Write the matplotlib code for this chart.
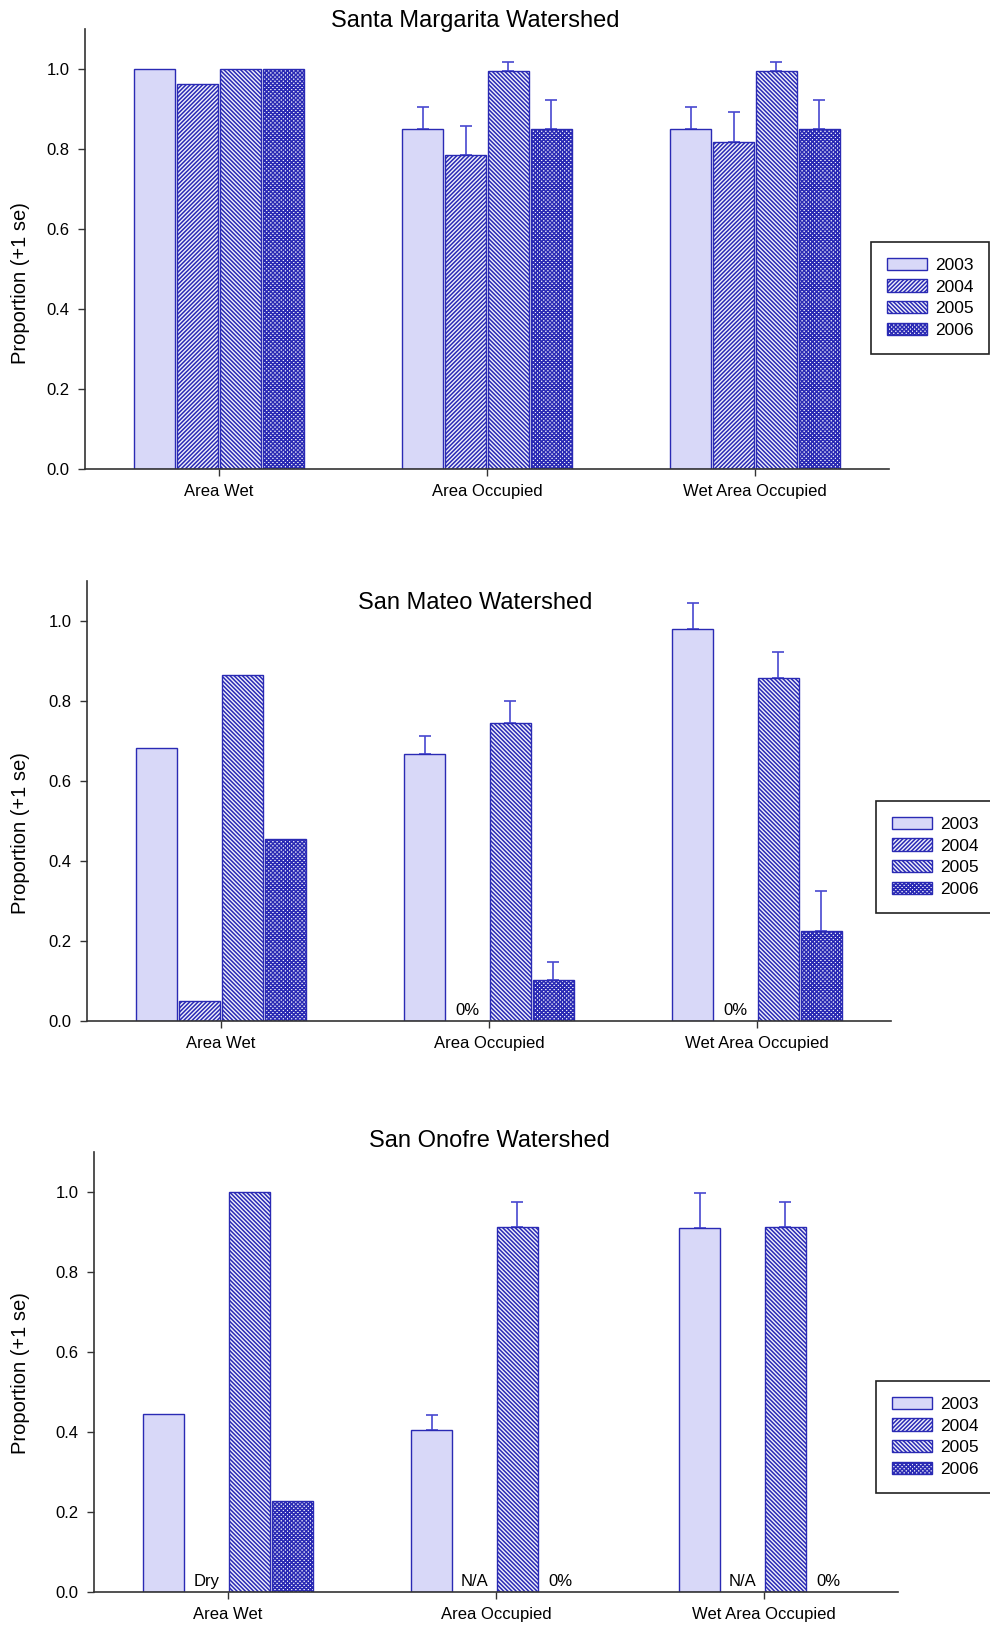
import matplotlib
matplotlib.use("Agg")
import matplotlib.pyplot as plt
import numpy as np
from matplotlib.patches import Patch

plt.rcParams['font.family'] = ['Liberation Sans', 'DejaVu Sans']
plt.rcParams['hatch.linewidth'] = 1.1

categories = ['Area Wet', 'Area Occupied', 'Wet Area Occupied']
years = ['2003', '2004', '2005', '2006']

# Santa Margarita
sm_vals = {'2003': [1.0, 0.849, 0.849],
           '2004': [0.963, 0.785, 0.817],
           '2005': [1.0, 0.996, 0.996],
           '2006': [1.0, 0.851, 0.851]}
sm_se = {'2003': [0, 0.057, 0.057],
         '2004': [0, 0.073, 0.075],
         '2005': [0, 0.021, 0.021],
         '2006': [0, 0.071, 0.071]}
sm_notes = {}

# San Mateo
smt_vals = {'2003': [0.682, 0.668, 0.979],
            '2004': [0.05, np.nan, np.nan],
            '2005': [0.865, 0.746, 0.858],
            '2006': [0.456, 0.103, 0.225]}
smt_se = {'2003': [0, 0.045, 0.065],
          '2004': [0, 0, 0],
          '2005': [0, 0.054, 0.064],
          '2006': [0, 0.045, 0.099]}
smt_notes = {('2004', 1): '0%', ('2004', 2): '0%'}

# San Onofre
so_vals = {'2003': [0.445, 0.405, 0.91],
           '2004': [np.nan, np.nan, np.nan],
           '2005': [1.0, 0.913, 0.913],
           '2006': [0.228, np.nan, np.nan]}
so_se = {'2003': [0, 0.038, 0.087],
         '2004': [0, 0, 0],
         '2005': [0, 0.062, 0.062],
         '2006': [0, 0, 0]}
so_notes = {('2004', 0): 'Dry', ('2004', 1): 'N/A', ('2004', 2): 'N/A',
            ('2006', 1): '0%', ('2006', 2): '0%'}

edge = '#2a2ab4'
styles = {'2003': dict(facecolor='#d8d8f8', hatch=None),
          '2004': dict(facecolor='#f2f2fc', hatch='////////'),
          '2005': dict(facecolor='#f2f2fc', hatch='\\\\\\\\\\\\\\\\'),
          '2006': dict(facecolor='#f2f2fc', hatch='xxxxxxxx')}

W, H = 990, 1630
fig = plt.figure(figsize=(W / 100, H / 100), dpi=100)


def rect(l, r, t, b):
    return [l / W, 1 - b / H, (r - l) / W, (b - t) / H]


def panel(box, title, title_xy, ylab_y, leg_xy, vals, ses, notes):
    ax = fig.add_axes(rect(*box))
    x = np.arange(len(categories))
    step, width = 0.16, 0.152
    for i, yr in enumerate(years):
        xs = x + (i - 1.5) * step
        v = np.array(vals[yr], dtype=float)
        st = styles[yr]
        ax.bar(xs, v, width, facecolor=st['facecolor'], edgecolor=edge,
               hatch=st['hatch'], linewidth=1.0, zorder=2)
        se = np.array(ses[yr], dtype=float)
        m = se > 0
        if m.any():
            ax.errorbar(xs[m], v[m], yerr=[np.zeros(m.sum()), se[m]], fmt='none',
                        ecolor='#4848d0', elinewidth=1.2, capsize=4, capthick=1.2,
                        zorder=1)
        for (y2, j), txt in notes.items():
            if y2 == yr:
                ax.text(xs[j], 0.008, txt, ha='center', va='bottom', fontsize=12)
    ax.set_xlim(-0.5, 2.5)
    ax.set_ylim(0, 1.1)
    ax.set_yticks(np.arange(0, 1.01, 0.2))
    ax.set_yticklabels(['%.1f' % t for t in np.arange(0, 1.01, 0.2)])
    ax.set_xticks(x)
    ax.set_xticklabels(categories)
    ax.tick_params(direction='out', length=5, width=1, labelsize=12,
                   color='#333333', pad=6)
    for s in ['top', 'right']:
        ax.spines[s].set_visible(False)
    for s in ['left', 'bottom']:
        ax.spines[s].set_color('#333333')
        ax.spines[s].set_linewidth(1.2)
    fig.text(title_xy[0] / W, 1 - title_xy[1] / H, title, ha='center',
             va='center', fontsize=17)
    fig.text(21 / W, 1 - ylab_y / H, 'Proportion (+1 se)', rotation=90,
             ha='center', va='center', fontsize=14.5)
    handles = [Patch(facecolor=styles[y]['facecolor'], edgecolor=edge,
                     hatch=styles[y]['hatch'], linewidth=1.0) for y in years]
    leg = ax.legend(handles, years, loc='upper left',
                    bbox_to_anchor=(leg_xy[0] / W, 1 - leg_xy[1] / H),
                    bbox_transform=fig.transFigure, borderaxespad=0,
                    fontsize=12.5, handlelength=2.3, handleheight=0.7,
                    handletextpad=0.5, labelspacing=0.38, borderpad=0.9,
                    fancybox=False, framealpha=1, edgecolor='#222222')
    leg.get_frame().set_linewidth(1.2)
    return ax


panel((85, 889, 29, 469), 'Santa Margarita Watershed', (475, 21), 283,
      (871, 242), sm_vals, sm_se, sm_notes)
panel((87, 891, 581, 1021), 'San Mateo Watershed', (475, 603), 833,
      (876, 801), smt_vals, smt_se, smt_notes)
panel((94, 898, 1152, 1592), 'San Onofre Watershed', (489, 1141), 1373,
      (876, 1381), so_vals, so_se, so_notes)

fig.savefig('out.png', dpi=100)
